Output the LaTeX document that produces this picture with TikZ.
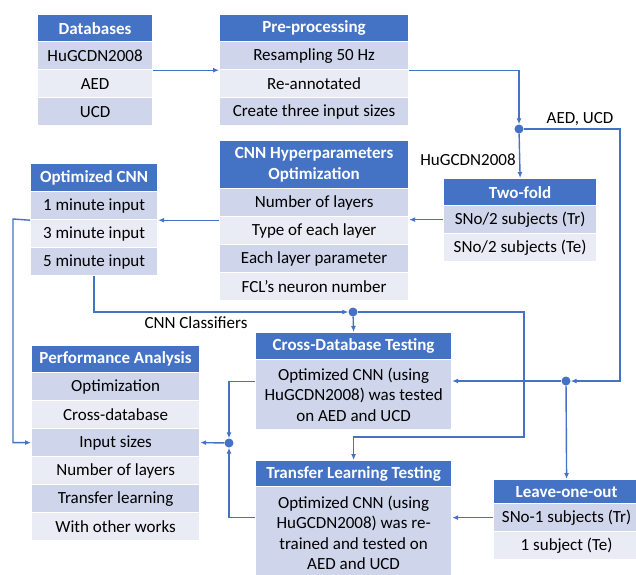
\documentclass[tikz,border=0pt]{standalone}
\usepackage{fontspec}
\setmainfont{Carlito}
\usetikzlibrary{arrows.meta,calc}
\definecolor{hdblue}{HTML}{4472C4}
\definecolor{wire}{HTML}{4472C4}
\definecolor{row1}{HTML}{CFD5EA}
\definecolor{row0}{HTML}{E9EBF5}

\begin{document}
\begin{tikzpicture}[x=1pt,y=-1pt,>={Latex[length=6pt,width=5pt]},
  font=\fontsize{17}{20.5}\selectfont,
  cell/.style={draw=white,line width=1.2pt,inner sep=0pt,anchor=north west,align=center},
  head/.style={cell,fill=hdblue,text=white,font=\fontsize{17}{20.5}\selectfont\bfseries},
  link/.style={wire,line width=1.4pt},
  dot/.style={circle,fill=wire,inner sep=0pt,minimum size=9pt}]
  \useasboundingbox (0,0) rectangle (636,574);

  % databases and pre-processing
  \node[head,minimum width=115,minimum height=27] (db) at (37,14) {Databases};
  \foreach \t [count=\i] in {HuGCDN2008,AED,UCD}{
    \pgfmathtruncatemacro{\k}{mod(\i,2)}
    \node[cell,fill=row\k,minimum width=115,minimum height=28] (db\i) at (37,13+28*\i) {\t};
  }
  \node[head,minimum width=189,minimum height=27] (pre) at (219,14) {Pre-processing};
  \foreach \t [count=\i] in {Resampling 50 Hz,Re-annotated,Create three input sizes}{
    \pgfmathtruncatemacro{\k}{mod(\i,2)}
    \node[cell,fill=row\k,minimum width=189,minimum height=28] (pre\i) at (219,13+28*\i) {\t};
  }

  % optimization
  \node[head,minimum width=189,minimum height=48] (hyp) at (219,140)
    {CNN Hyperparameters\\Optimization};
  \foreach \t [count=\i] in {Number of layers,Type of each layer,Each layer parameter,FCL’s neuron number}{
    \pgfmathtruncatemacro{\k}{mod(\i,2)}
    \node[cell,fill=row\k,minimum width=189,minimum height=28] (hyp\i) at (219,160+28*\i) {\t};
  }
  \node[head,minimum width=127,minimum height=28] (opt) at (30,163) {Optimized CNN};
  \foreach \t [count=\i] in {1 minute input,3 minute input,5 minute input}{
    \pgfmathtruncatemacro{\k}{mod(\i,2)}
    \node[cell,fill=row\k,minimum width=127,minimum height=28] (opt\i) at (30,163+28*\i) {\t};
  }
  \node[head,minimum width=153,minimum height=27] (tf) at (443,178) {Two-fold};
  \foreach \t [count=\i] in {{SNo/2 subjects (Tr)},{SNo/2 subjects (Te)}}{
    \pgfmathtruncatemacro{\k}{mod(\i,2)}
    \node[cell,fill=row\k,minimum width=153,minimum height=28] (tf\i) at (443,177+28*\i) {\t};
  }

  % testing and analysis
  \node[head,minimum width=168,minimum height=27] (pa) at (31,345) {Performance Analysis};
  \foreach \t [count=\i] in {Optimization,Cross-database,Input sizes,Number of layers,Transfer learning,With other works}{
    \pgfmathtruncatemacro{\k}{mod(\i,2)}
    \node[cell,fill=row\k,minimum width=168,minimum height=28] (pa\i) at (31,344+28*\i) {\t};
  }
  \node[head,minimum width=196,minimum height=27] (xh) at (255,332) {Cross-Database Testing};
  \node[cell,fill=row1,minimum width=196,minimum height=70] (xb) at (255,359)
    {Optimized CNN (using\\HuGCDN2008) was tested\\on AED and UCD};
  \node[head,minimum width=196,minimum height=26] (th) at (255,460) {Transfer Learning Testing};
  \node[cell,fill=row1,minimum width=196,minimum height=92] (tb) at (255,486)
    {Optimized CNN (using\\HuGCDN2008) was re-\\trained and tested on\\AED and UCD};
  \node[head,minimum width=146,minimum height=24] (lo) at (493,479) {Leave-one-out};
  \foreach \t [count=\i] in {{SNo-1 subjects (Tr)},{1 subject (Te)}}{
    \pgfmathtruncatemacro{\k}{mod(\i,2)}
    \node[cell,fill=row\k,minimum width=146,minimum height=28] (lo\i) at (493,475+28*\i) {\t};
  }

  % junctions and labels
  \node[dot] (jtop) at (519,129) {};
  \node[dot] (jcls) at (353,312) {};
  \node[dot] (jlo) at (566,381) {};
  \node[dot] (jpa) at (229,443) {};
  \coordinate (rgt) at (620,129);
  \coordinate (lft) at (13,219);
  \coordinate (loop) at (524,437);
  \node (aedlbl) at (580,119) {AED, UCD};
  \node (hulbl) at (468,160) {HuGCDN2008};
  \node (clslbl) at (196,323) {CNN Classifiers};

  \draw[link,->] (db1.south east) -- (pre1.south west);
  \draw[link,->] (pre1.south east) -| (jtop);
  \draw[link,->] (jtop) -- (tf.north);
  \draw[link,->] (jtop) -- (rgt) |- (jlo);
  \draw[link,->] (jlo) -- (jlo -| xb.east);
  \draw[link,->] (jlo) -- (lo.north);
  \draw[link,->] (tf1.west) -- (tf1.west -| hyp1.east);
  \draw[link,->] (opt1.south east -| hyp1.west) -- (opt1.south east);
  \draw[link,->] (opt1.south west) -- (lft) |- (pa3.west);
  \draw[link,->] (opt3.south) |- (jcls);
  \draw[link,->] (jcls) -- (xh.north);
  \draw[link,->] (jcls) -| (loop) -| (th.north);
  \draw[link,->] ($(xb.west)+(0,-13)$) -| (jpa);
  \draw[link,->] (lo1.west) -- (lo1.west -| tb.east);
  \draw[link,->] (tb.west |- lo1.west) -| (jpa);
  \draw[link,->] (jpa) -- (pa3.east);
\end{tikzpicture}
\end{document}
